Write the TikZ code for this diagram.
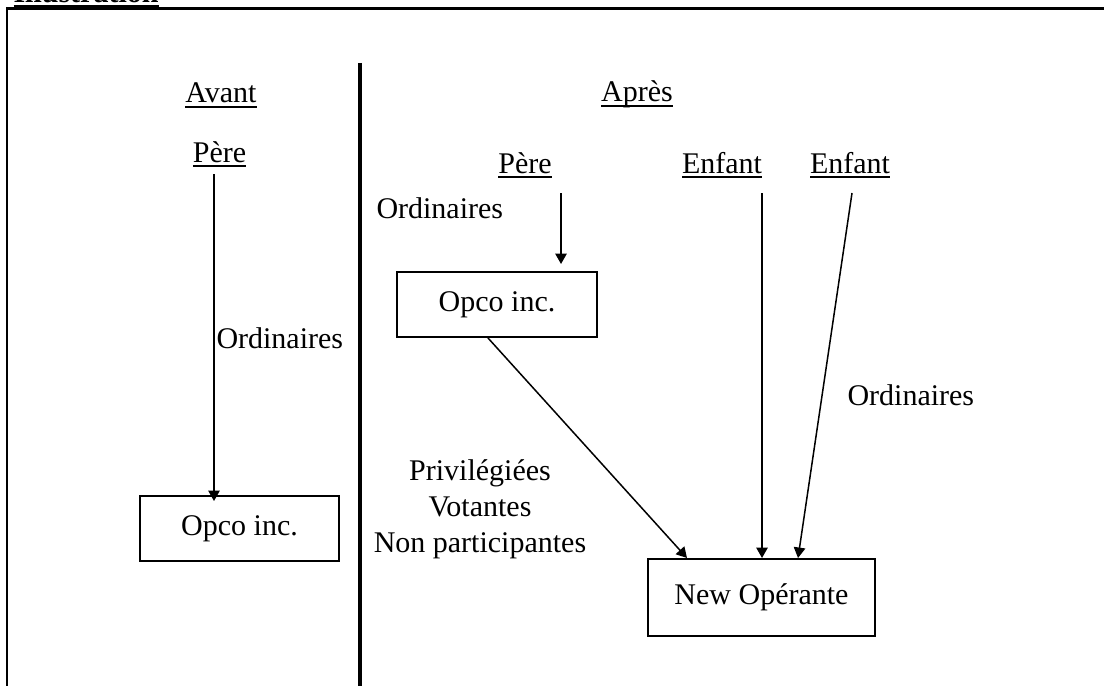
\documentclass[tikz,border=0pt]{standalone}
\usepackage{fontspec}
\setmainfont{Liberation Serif}
\usepackage{tikz}
\usetikzlibrary{arrows.meta}

\newcommand{\ulabel}[1]{\setbox0=\hbox{#1}\rlap{\rule[-2pt]{\wd0}{0.9pt}}\box0}

\begin{document}
\begin{tikzpicture}[
            x=0.4pt, y=-0.4pt,
            every node/.style={font=\fontsize{12}{14.4}\selectfont, inner sep=0pt},
            frame/.style={draw=black, line width=1pt},
            divider/.style={draw=black, line width=1.9pt},
            arr/.style={draw=black, line width=0.6pt,
                    -{Triangle[length=4.2pt, width=4.6pt]}},
            company/.style={draw=black, line width=0.8pt},
            lab/.style={anchor=base}
        ]

        \useasboundingbox (0,0) rectangle (1104,686);

        % =============== cadre ===============
        \draw[frame] (1104,8.7) -- (7,8.7) -- (7,686);
        \node[anchor=base west, font=\fontsize{12}{14.4}\selectfont\bfseries]
        (illus) at (13,2.5) {\ulabel{Illustration}};
        \draw[divider] (360,63) -- (360,686);

        % =============== avant ===============
        \node[lab] (avant) at (221,103) {\ulabel{Avant}};
        \node[lab] (perea) at (219.5,162) {\ulabel{Père}};
        \node[company, minimum width=79.6pt, minimum height=26pt]
        (opcoa) at (239.5,528.5) {Opco inc.};
        \coordinate (pa) at (214,174);
        \draw[arr, shorten >=-2.4pt] (pa) -- (pa |- opcoa.north);
        \node[lab, anchor=base west] (orda) at (216,348) {Ordinaires};

        % =============== après ===============
        \node[lab] (apres) at (637,102) {\ulabel{Après}};
        \node[lab] (pereb) at (525,173) {\ulabel{Père}};
        \node[lab] (enfa) at (722,173) {\ulabel{Enfant}};
        \node[lab] (enfb) at (850,173) {\ulabel{Enfant}};
        \node[lab, anchor=base west] (ordb) at (376,218) {Ordinaires};

        \node[company, minimum width=80pt, minimum height=26pt]
        (opcob) at (497,304.5) {Opco inc.};
        \node[company, minimum width=90.8pt, minimum height=30.8pt]
        (newop) at (761.5,597.5) {New Opérante};

        \node[align=center, anchor=north] (priv) at (480,459)
        {Privilégiées\\Votantes\\Non participantes};
        \node[lab, anchor=base west] (ordc) at (847,405) {Ordinaires};

        % flèches
        \coordinate (pb) at (561,193);
        \coordinate (ea) at (762,193);
        \coordinate (eb) at (852,193);
        \draw[arr, shorten >=2.8pt] (pb) -- (pb |- opcob.north);
        \draw[arr] ([xshift=-3.6pt]opcob.south) -- ([xshift=16pt]newop.north west);
        \draw[arr] (ea) -- (ea |- newop.north);
        \draw[arr] (eb) -- ([xshift=14.6pt]newop.north);

    \end{tikzpicture}
\end{document}
